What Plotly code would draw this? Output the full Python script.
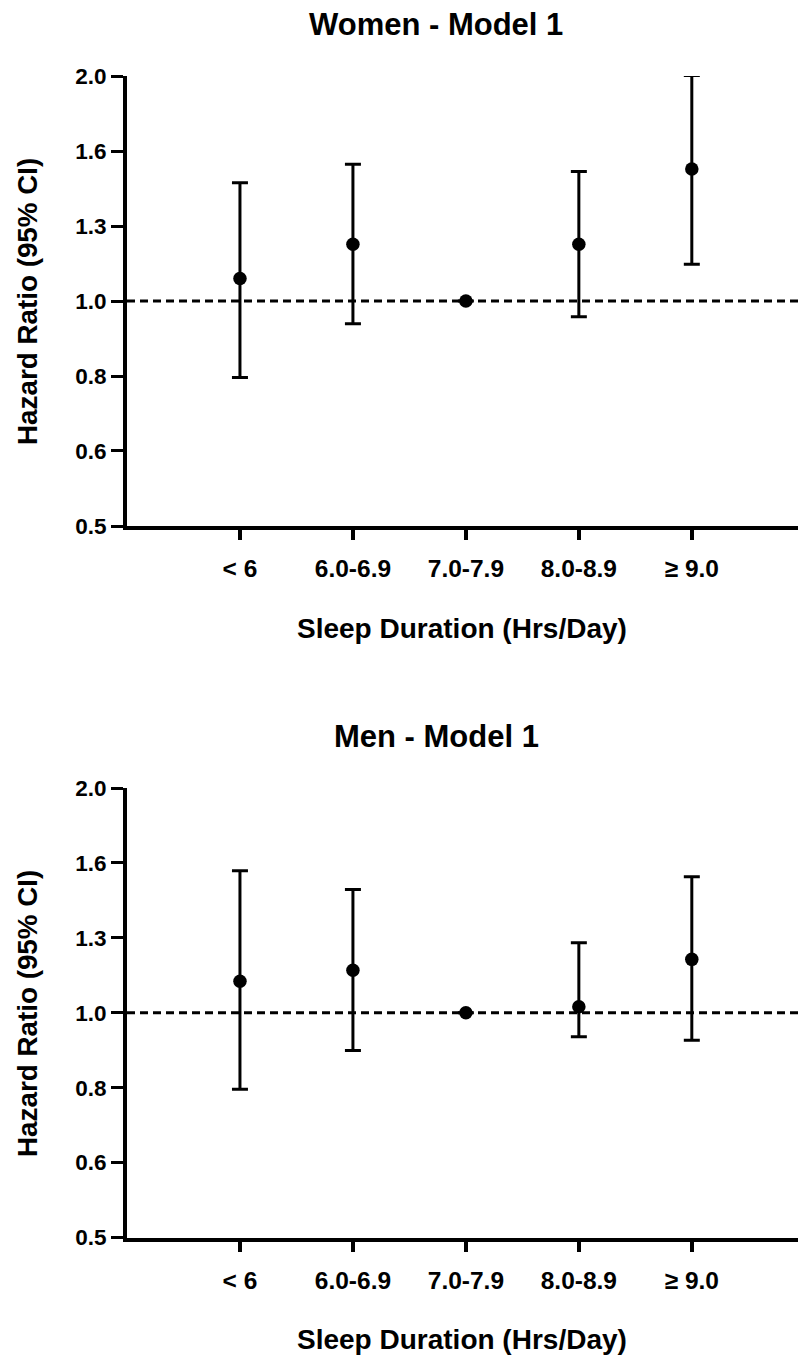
import plotly.graph_objects as go

categories = ["< 6", "6.0-6.9", "7.0-7.9", "8.0-8.9", "≥ 9.0"]
cat_pos = [1, 2, 3, 4, 5]

women_hr = [1.072, 1.191, 1.0, 1.191, 1.502]
women_lo = [0.790, 0.932, 1.0, 0.953, 1.120]
women_hi = [1.440, 1.524, 1.0, 1.490, 2.003]

men_hr = [1.102, 1.140, 1.0, 1.019, 1.179]
men_lo = [0.790, 0.890, 1.0, 0.929, 0.919]
men_hi = [1.550, 1.462, 1.0, 1.241, 1.521]

ytick_vals = [0.5, 0.63, 0.7937, 1.0, 1.2599, 1.5874, 2.0]
ytick_text = ["0.5", "0.6", "0.8", "1.0", "1.3", "1.6", "2.0"]

panel_titles = ["Women - Model 1", "Men - Model 1"]
x_title = "Sleep Duration (Hrs/Day)"
y_title = "Hazard Ratio (95% CI)"

FONT = "Liberation Sans, Arial, Helvetica, sans-serif"
W, H = 798, 1357

fig = go.Figure()

def add_panel(hr, lo, hi, xa, ya):
    fig.add_trace(go.Scatter(
        x=cat_pos, y=hr, mode="markers",
        marker=dict(color="black", size=13.5, symbol="circle"),
        error_y=dict(type="data", symmetric=False,
                     array=[h - p for h, p in zip(hi, hr)],
                     arrayminus=[p - l for p, l in zip(hr, lo)],
                     color="black", thickness=3, width=8),
        xaxis=xa, yaxis=ya, showlegend=False, hoverinfo="skip"))

add_panel(women_hr, women_lo, women_hi, "x", "y")
add_panel(men_hr, men_lo, men_hi, "x2", "y2")

left = 127 / W
top_dom = [1 - 526 / H, 1 - 76 / H]
bot_dom = [1 - 1237.5 / H, 1 - 788 / H]

xcommon = dict(range=[0, 5.94], tickmode="array", tickvals=cat_pos, ticktext=categories,
               showline=True, linecolor="black", linewidth=4, ticks="outside",
               ticklen=10, tickwidth=4, tickcolor="black", showgrid=False, zeroline=False,
               tickfont=dict(family=FONT, size=24.5, color="black", weight="bold"),
               ticklabelstandoff=8, fixedrange=True, automargin=False)
ycommon = dict(type="log", range=[-0.30103, 0.30103], tickmode="array",
               tickvals=ytick_vals, ticktext=ytick_text,
               showline=True, linecolor="black", linewidth=4, ticks="outside",
               ticklen=12, tickwidth=3, tickcolor="black", showgrid=False, zeroline=False,
               tickfont=dict(family=FONT, size=22.5, color="black", weight="bold"),
               ticklabelstandoff=0, fixedrange=True, automargin=False)

fig.update_layout(
    template="none",
    width=W, height=H, margin=dict(l=0, r=0, t=0, b=0, autoexpand=False),
    paper_bgcolor="white", plot_bgcolor="white",
    xaxis=dict(domain=[left, 1], anchor="y", **xcommon),
    yaxis=dict(domain=top_dom, anchor="x", **ycommon),
    xaxis2=dict(domain=[left, 1], anchor="y2", **xcommon),
    yaxis2=dict(domain=bot_dom, anchor="x2", **ycommon),
)

for yref, xref in [("y", "x"), ("y2", "x2")]:
    fig.add_shape(type="line", xref=xref + " domain", yref=yref, x0=0, x1=1, y0=1.0, y1=1.0,
                  line=dict(color="black", width=3, dash="8px,5px"), layer="below")

def ann(text, xpx, ypx, angle=0, size=28):
    fig.add_annotation(text=text, x=xpx / W, y=1 - ypx / H, xref="paper", yref="paper",
                       xanchor="center", yanchor="middle", showarrow=False, textangle=angle,
                       font=dict(family=FONT, size=size, color="black", weight="bold"))

ann(panel_titles[0], 436, 24, size=31)
ann(panel_titles[1], 436, 736, size=31)
ann(x_title, 462, 628)
ann(x_title, 462, 1339)
ann(y_title, 27, 302, angle=-90, size=27.8)
ann(y_title, 27, 1014, angle=-90, size=27.8)

fig.write_html("out.html", config={"displayModeBar": False, "staticPlot": True},
               post_script="document.body.style.margin='0px';document.body.style.padding='0px';"
                           "document.documentElement.style.overflow='hidden';")
